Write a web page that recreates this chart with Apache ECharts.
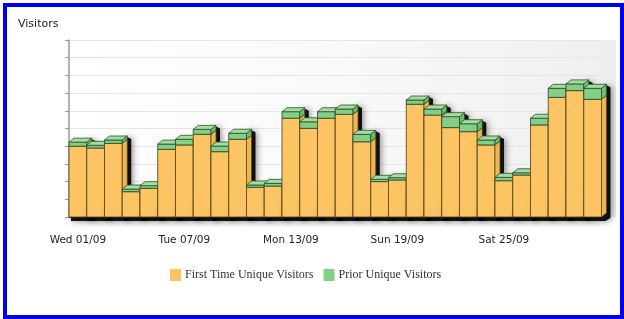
<!DOCTYPE html>
<html>
<head>
<meta charset="utf-8">
<script src="https://cdn.jsdelivr.net/npm/echarts@6/dist/echarts.min.js"></script>
<style>
html,body{margin:0;padding:0;background:#fff;}
#chart{position:absolute;left:0;top:0;width:624px;height:319px;}
#frame{position:absolute;left:3px;top:3px;width:621px;height:316px;box-sizing:border-box;border:4px solid #0000f5;pointer-events:none;}
</style>
</head>
<body>
<div id="chart"></div>
<div id="frame"></div>
<script>
const categories = ['Wed 01/09','Thu 02/09','Fri 03/09','Sat 04/09','Sun 05/09','Mon 06/09','Tue 07/09','Wed 08/09','Thu 09/09','Fri 10/09',
  'Sat 11/09','Sun 12/09','Mon 13/09','Tue 14/09','Wed 15/09','Thu 16/09','Fri 17/09','Sat 18/09','Sun 19/09','Mon 20/09',
  'Tue 21/09','Wed 22/09','Thu 23/09','Fri 24/09','Sat 25/09','Sun 26/09','Mon 27/09','Tue 28/09','Wed 29/09','Thu 30/09'];
const firstTime = [40, 39, 41.6, 14.3, 16.2, 38.2, 40.7, 46.7, 36.9, 43.9, 16.8, 17.5, 55.8, 50.1, 55.8, 58, 42.5, 20, 20.9, 63.7, 57.6, 50.5, 48.2, 40.7, 20.5, 23.7, 52, 67.6, 71.4, 66.5];
const prior = [2.3, 1.5, 1.9, 1.5, 1.5, 3, 3.2, 2.8, 3.2, 3.4, 1.3, 1.5, 3.7, 3.7, 3.7, 3, 4.2, 1.3, 1.3, 2.4, 3.4, 6.2, 4.5, 2.8, 1.9, 1.3, 3.8, 5.1, 3.8, 6.2];
const seriesNames = ['First Time Unique Visitors', 'Prior Unique Visitors'];

const DX = 5, DY = 4;
const palette = [
  {front:'#FDC463', top:'#FFD583', side:'#EFB552', stroke:'#5e4c22'},
  {front:'#84CF86', top:'#A2DEA0', side:'#6CBD70', stroke:'#2f4f2c'}
];
const rows = categories.map((c, i) => [i, firstTime[i], prior[i]]);

function makeRender(k) {
  return function (params, api) {
    const i = api.value(0), a = api.value(1), b = api.value(2);
    const lo = k === 0 ? 0 : a, hi = k === 0 ? a : a + b;
    const pLo = api.coord([i, lo]), pHi = api.coord([i, hi]);
    const w = api.size([1, 0])[0];
    const x0 = pLo[0] - w / 2, x1 = pLo[0] + w / 2, yb = pLo[1], yt = pHi[1];
    const c = palette[k];
    const base = i * 10 + k * 4;
    const children = [];
    if (k === 0) {
      const yTot = api.coord([i, a + b])[1];
      children.push({
        type: 'polygon', z2: base,
        shape: {points: [[x1, yTot], [x1 + DX, yTot - DY + 1], [x1 + DX + 4, yTot - DY + 3], [x1 + DX + 4, yb + 1], [x1 + 4, yb + 4], [x0 + 2, yb + 4], [x0 + 2, yb]]},
        style: {fill: 'rgba(0,0,0,0.9)', shadowBlur: 7, shadowColor: 'rgba(0,0,0,0.55)', shadowOffsetX: 1}
      });
    }
    children.push({
      type: 'rect', z2: base + 1,
      shape: {x: x0, y: yt, width: x1 - x0, height: yb - yt},
      style: {fill: c.front, stroke: c.stroke, lineWidth: 0.9}
    });
    children.push({
      type: 'polygon', z2: base + 2,
      shape: {points: [[x1, yt], [x1 + DX, yt - DY], [x1 + DX, yb - DY], [x1, yb]]},
      style: {fill: c.side, stroke: c.stroke, lineWidth: 0.8}
    });
    if (k === 1) {
      children.push({
        type: 'polygon', z2: base + 3,
        shape: {points: [[x0, yt], [x0 + DX, yt - DY], [x1 + DX, yt - DY], [x1, yt]]},
        style: {fill: c.top, stroke: c.stroke, lineWidth: 0.8}
      });
    }
    return {type: 'group', children: children};
  };
}

const chart = echarts.init(document.getElementById('chart'), null, {renderer: 'canvas'});
chart.setOption({
  animation: false,
  backgroundColor: '#fff',
  title: {
    text: 'Visitors', left: 13, top: 14,
    textStyle: {fontFamily: 'DejaVu Sans', fontSize: 11, fontWeight: 'normal', color: '#222'}
  },
  graphic: [{
    type: 'rect', z: -10, silent: true,
    shape: {x: 69, y: 40, width: 547, height: 177},
    style: {fill: new echarts.graphic.LinearGradient(0, 0, 1, 0, [
      {offset: 0, color: '#ffffff'}, {offset: 0.5, color: '#f9f9f9'}, {offset: 1, color: '#efefef'}])}
  }],
  legend: {
    data: seriesNames, left: 165, top: 264, icon: 'rect', itemWidth: 11, itemHeight: 12, itemGap: 10,
    textStyle: {fontFamily: 'Liberation Serif', fontSize: 12, color: '#333', padding: [0, 0, 0, -1]}
  },
  grid: {left: 69, right: 22.5, top: 40, bottom: 102, containLabel: false},
  xAxis: {
    type: 'category', data: categories, boundaryGap: true,
    axisLine: {lineStyle: {color: '#333'}},
    axisTick: {interval: 5, alignWithLabel: true, length: 8, lineStyle: {color: '#333'}},
    axisLabel: {interval: 5, fontFamily: 'DejaVu Sans', fontSize: 10.5, color: '#222', margin: 18},
    splitLine: {show: false}
  },
  yAxis: {
    type: 'value', min: 0, max: 100, interval: 10,
    axisLine: {show: true, lineStyle: {color: '#999', width: 1.5}},
    axisTick: {show: true, length: 4, lineStyle: {color: '#999'}},
    axisLabel: {show: false},
    splitLine: {lineStyle: {color: '#e6e6e6'}}
  },
  series: [
    {name: seriesNames[0], type: 'custom', renderItem: makeRender(0), data: rows, itemStyle: {color: palette[0].front},
     encode: {x: 0, y: [1, 2]}},
    {name: seriesNames[1], type: 'custom', renderItem: makeRender(1), data: rows, itemStyle: {color: palette[1].front},
     encode: {x: 0, y: [1, 2]}}
  ]
});
</script>
</body>
</html>
